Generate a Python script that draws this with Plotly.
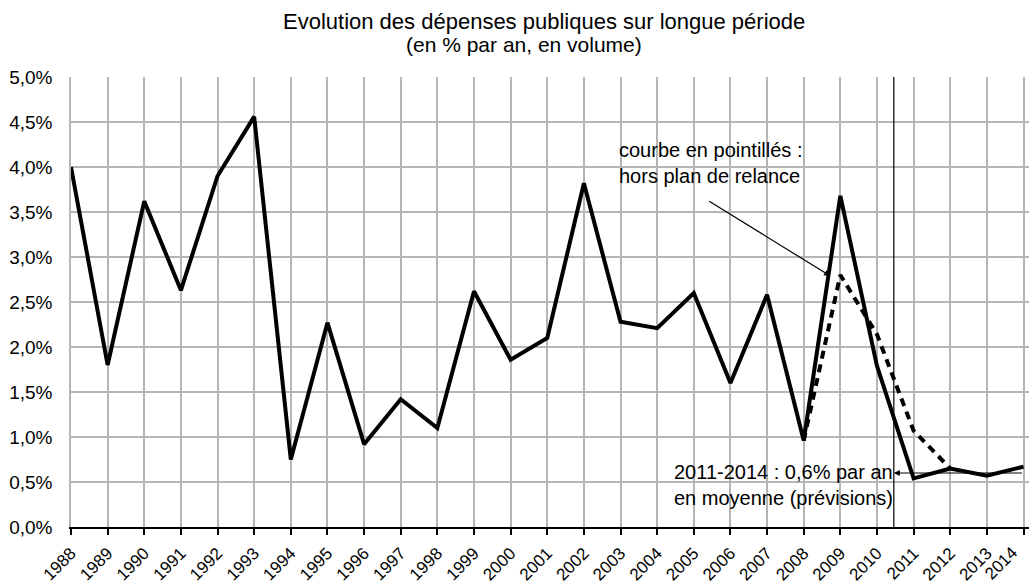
import plotly.graph_objects as go

years = list(range(1988, 2015))
depenses = [4.0, 1.8, 3.62, 2.63, 3.9, 4.56, 0.75, 2.27, 0.92, 1.42, 1.1, 2.62,
            1.86, 2.1, 3.82, 2.28, 2.21, 2.6, 1.6, 2.58, 0.96, 3.68, 1.79,
            0.54, 0.65, 0.57, 0.67]
years_hors = [2008, 2009, 2010, 2011, 2012]
hors_relance = [0.96, 2.8, 2.14, 1.07, 0.65]
y_ticks = [0, 0.5, 1, 1.5, 2, 2.5, 3, 3.5, 4, 4.5, 5]
y_labels = ["0,0%", "0,5%", "1,0%", "1,5%", "2,0%", "2,5%", "3,0%", "3,5%", "4,0%", "4,5%", "5,0%"]
moyenne_2011_2014 = 0.6
separation = 2010.46
title_line1 = "Evolution des dépenses publiques sur longue période"
title_line2 = "(en % par an, en volume)"

FONT = "Arial, Liberation Sans, sans-serif"
L = 71
PW = 1029 - L
X_END = 2014.15

# last year label drawn separately so it stays inside the page
tick_text = [str(y) for y in years[:-1]] + [""]

fig = go.Figure()
fig.add_trace(go.Scatter(x=years, y=depenses, mode="lines",
                         line=dict(color="black", width=4), showlegend=False))
fig.add_trace(go.Scatter(x=years_hors, y=hors_relance, mode="lines",
                         line=dict(color="black", width=4, dash="8px,6px"), showlegend=False))

fig.add_shape(type="line", x0=separation, x1=separation, y0=0, y1=5,
              xref="x", yref="y", line=dict(color="black", width=1.2))

fig.add_annotation(x=2008.72, y=2.79, ax=2005.38, ay=3.63, xref="x", yref="y",
                   axref="x", ayref="y", text="", showarrow=True,
                   arrowhead=2, arrowsize=1, arrowwidth=1.2, arrowcolor="black")
fig.add_annotation(x=2002.9, y=4.04, xref="x", yref="y", xanchor="left", yanchor="middle",
                   text="courbe en pointillés :<br>hors plan de relance", showarrow=False,
                   align="left", font=dict(family=FONT, size=20, color="black"))

fig.add_annotation(x=separation, y=moyenne_2011_2014, ax=2014, ay=moyenne_2011_2014,
                   xref="x", yref="y", axref="x", ayref="y", text="", showarrow=True,
                   arrowhead=2, arrowsize=1, arrowwidth=1.2, arrowcolor="black")
fig.add_annotation(x=2004.4, y=0.47, xref="x", yref="y", xanchor="left", yanchor="middle",
                   text="2011-2014 : 0,6% par an<br>en moyenne (prévisions)", showarrow=False,
                   align="left", font=dict(family=FONT, size=20, color="black"))

# label for the last year
fig.add_annotation(x=years[-1] - 0.62, xref="x", y=-0.08, yref="paper",
                   xanchor="center", yanchor="middle", text=str(years[-1]),
                   textangle=-45, showarrow=False,
                   font=dict(family=FONT, size=17, color="black"))

# title (two lines)
fig.add_annotation(x=(544 - L) / PW, y=(527 - 21) / 450, xref="paper", yref="paper",
                   xanchor="center", yanchor="middle", text=title_line1, showarrow=False,
                   font=dict(family=FONT, size=22, color="black"))
fig.add_annotation(x=(524 - L) / PW, y=(527 - 45) / 450, xref="paper", yref="paper",
                   xanchor="center", yanchor="middle", text=title_line2, showarrow=False,
                   font=dict(family=FONT, size=21, color="black"))

fig.update_layout(
    width=1029, height=585,
    margin=dict(l=L, r=0, t=77, b=58, autoexpand=False),
    paper_bgcolor="white", plot_bgcolor="white",
    font=dict(family=FONT, color="black"),
    xaxis=dict(range=[1988, X_END], tickmode="array", tickvals=years,
               ticktext=tick_text, tickangle=-45,
               tickfont=dict(size=17, family=FONT), showgrid=True,
               gridcolor="#b5b5b5", gridwidth=1.5, showline=True, linecolor="black",
               linewidth=1.5, ticks="outside", ticklen=6, tickcolor="black", tickwidth=1.5,
               zeroline=False, automargin=False, ticklabelstandoff=2,
               ticklabeloverflow="allow"),
    yaxis=dict(range=[0, 5], tickmode="array", tickvals=y_ticks, ticktext=y_labels,
               tickfont=dict(size=19, family=FONT), showgrid=True, gridcolor="#b5b5b5",
               gridwidth=1.5, showline=True, linecolor="#b5b5b5", linewidth=1.5,
               ticks="", zeroline=False, ticklabelstandoff=13, automargin=False),
)

fig.write_html("out.html", config={"displayModeBar": False},
               post_script="document.body.style.margin='0';document.body.style.overflow='hidden';")
